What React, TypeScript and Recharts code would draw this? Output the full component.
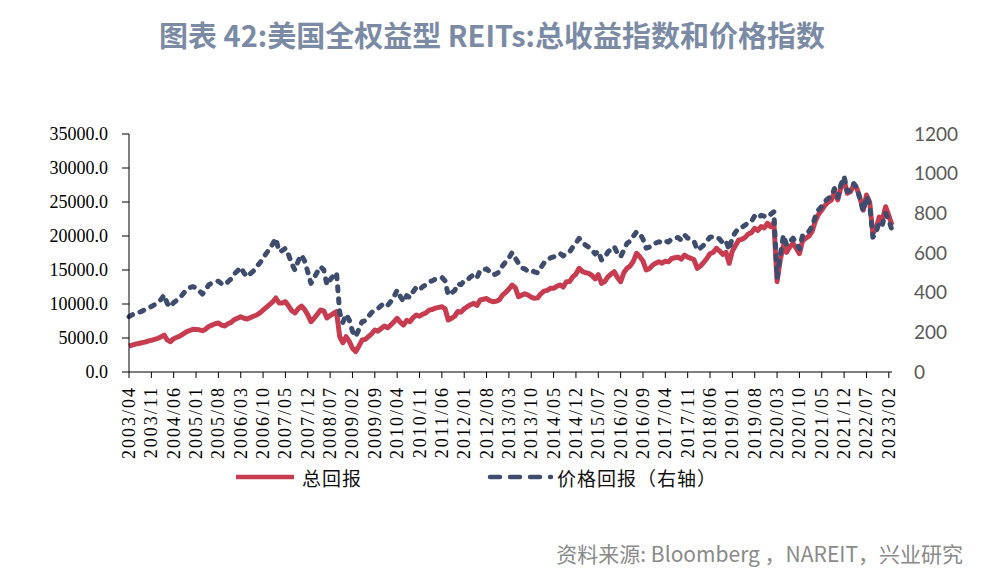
import React from 'react';
import { LineChart, Line, XAxis, YAxis } from 'recharts';

const START_YEAR = 2003;
const START_MONTH = 4;

// 总回报 (left axis), monthly from 2003/04 to 2023/03
const totalReturn = [
  3800, 3950, 4100, 4200, 4300, 4400, 4550, 4650, 4800, 4950, 5150, 5440,
  4700, 4460, 4900, 5100, 5300, 5600, 5900, 6100, 6280, 6250, 6200, 6075,
  6300, 6700, 6900, 7100, 7200, 6900, 6760, 7100, 7300, 7700, 7900, 8130,
  7900, 7790, 8000, 8200, 8380, 8700, 9100, 9500, 9900, 10300, 10880, 10150,
  10150, 10340, 9700, 9000, 8680, 9300, 9700, 9200, 8400, 7400, 7900, 8500,
  9120, 9000, 7940, 8300, 8600, 8870, 5200, 4300, 5190, 4500, 3500, 2990,
  3800, 4700, 4800, 5200, 5600, 6180, 6000, 6400, 6760, 6500, 6900, 7400,
  7900, 7300, 6910, 7600, 7400, 8000, 8380, 8200, 8500, 8700, 9100, 9200,
  9400, 9500, 9600, 9300, 7650, 7900, 8200, 8900, 8800, 9300, 9600, 9900,
  10100, 9800, 10590, 10700, 10800, 10500, 10340, 10400, 10600, 11300, 11700, 12200,
  12790, 12400, 11070, 11300, 11500, 11320, 11000, 10840, 10900, 11500, 11900, 12000,
  12300, 12310, 12600, 12800, 12500, 13280, 13300, 14000, 14400, 15250, 14800, 14600,
  14510, 14200, 13700, 14300, 13040, 13300, 14000, 14400, 14750, 13900, 13280, 14600,
  15250, 15600, 16300, 17460, 16960, 16300, 15000, 15200, 15700, 16000, 16220, 16000,
  16300, 16200, 16700, 16800, 16900, 16600, 17200, 16900, 16720, 16500, 15250, 15600,
  16100, 16700, 17400, 17600, 18190, 17800, 17300, 17600, 15990, 17800, 18600, 19410,
  19500, 19800, 20300, 20500, 21130, 20800, 21400, 21200, 21870, 21370, 22000, 13280,
  16500, 18600, 17600, 18400, 18900, 18190, 17400, 19300, 19660, 20000, 20700, 22200,
  23200, 23820, 24500, 25000, 25290, 26500, 25300, 27200, 28240, 26280, 26500, 27500,
  27000, 25500, 23800, 26030, 25000, 20400, 21000, 22800, 22350, 24310, 23000, 21620,
];

// 价格回报 (right axis)
const priceReturn = [
  279, 288, 296, 300, 306, 315, 323, 330, 340, 352, 365, 388,
  345, 328, 350, 362, 375, 395, 415, 425, 430, 425, 410, 393,
  415, 440, 448, 455, 458, 445, 439, 455, 470, 495, 510, 528,
  500, 480, 495, 510, 531, 550, 575, 598, 620, 645, 674, 607,
  612, 624, 590, 545, 514, 560, 590, 560, 505, 447, 475, 505,
  531, 515, 439, 465, 485, 501, 300, 250, 290, 262, 205, 178,
  215, 254, 258, 280, 300, 313, 320, 335, 346, 335, 355, 380,
  413, 380, 354, 385, 375, 405, 427, 415, 430, 440, 455, 460,
  468, 472, 477, 460, 388, 400, 410, 445, 440, 460, 464, 480,
  490, 475, 514, 515, 520, 505, 489, 495, 505, 535, 555, 575,
  602, 575, 548, 525, 520, 506, 512, 505, 500, 525, 550, 565,
  575, 580, 590, 598, 585, 598, 605, 630, 650, 674, 655, 640,
  630, 615, 595, 610, 565, 575, 605, 620, 632, 598, 581, 615,
  649, 660, 685, 707, 699, 670, 624, 630, 645, 650, 657, 650,
  660, 655, 672, 675, 678, 665, 691, 675, 670, 660, 615, 625,
  640, 660, 680, 682, 682, 670, 650, 660, 615, 680, 705, 725,
  730, 740, 755, 760, 787, 775, 790, 785, 800, 795, 808, 472,
  590, 690, 640, 657, 675, 650, 621, 689, 702, 709, 734, 784,
  817, 836, 860, 875, 885, 925, 880, 945, 985, 910, 915, 950,
  930, 870, 810, 885, 845, 680, 700, 760, 745, 800, 765, 715,
];

const months = totalReturn.map((_, i) => {
  const t = START_MONTH - 1 + i;
  const y = START_YEAR + Math.floor(t / 12);
  const m = (t % 12) + 1;
  return `${y}/${String(m).padStart(2, '0')}`;
});

const leftTicks = [0, 5000, 10000, 15000, 20000, 25000, 30000, 35000];
const rightTicks = [0, 200, 400, 600, 800, 1000, 1200];

const TITLE = '图表 42:美国全权益型 REITs:总收益指数和价格指数';
const SERIES_TOTAL = '总回报';
const SERIES_PRICE = '价格回报（右轴）';
const SOURCE = '资料来源: Bloomberg ，NAREIT，兴业研究';

const data = months.map((d, i) => ({ date: d, total: totalReturn[i], price: priceReturn[i] }));

const RED = '#c83c50';
const BLUE = '#3e4d6e';

const XTick = (props: any) => {
  const { x, y, payload } = props;
  return (
    <text
      x={x}
      y={y}
      transform={`rotate(-90 ${x} ${y})`}
      textAnchor="end"
      dominantBaseline="central"
      fontFamily="'Liberation Serif', 'Times New Roman', serif"
      fontSize={18}
      letterSpacing={2}
      fill="#000"
    >
      {payload.value}
    </text>
  );
};

export default function App() {
  return (
    <div style={{ position: 'absolute', left: 0, top: 0, width: 996, height: 575, background: '#fff', overflow: 'hidden' }}>
      <div
        style={{
          position: 'absolute',
          left: 0,
          width: 984,
          top: 19,
          textAlign: 'center',
          fontFamily: "'Noto Sans CJK SC', 'Noto Sans', sans-serif",
          fontWeight: 700,
          fontSize: 29,
          lineHeight: '30px',
          color: '#7b8ba5',
          whiteSpace: 'nowrap',
        }}
      >
        {TITLE}
      </div>
      <LineChart width={996} height={575} data={data} margin={{ top: 134, right: 34, bottom: 123, left: 69 }}>
        <XAxis
          dataKey="date"
          interval={6}
          tickSize={6}
          tickMargin={8}
          height={80}
          axisLine={{ stroke: '#000', strokeWidth: 1 }}
          tickLine={{ stroke: '#000', strokeWidth: 1 }}
          tick={<XTick />}
        />
        <YAxis
          yAxisId="left"
          orientation="left"
          width={60}
          domain={[0, 35000]}
          ticks={leftTicks}
          interval={0}
          tickFormatter={(v: number) => v.toFixed(1)}
          tickSize={7}
          tickMargin={14}
          axisLine={{ stroke: '#000', strokeWidth: 1 }}
          tickLine={{ stroke: '#000', strokeWidth: 1 }}
          tick={{ fill: '#000', fontFamily: "'Liberation Serif', 'Times New Roman', serif", fontSize: 18 }}
        />
        <YAxis
          yAxisId="right"
          orientation="right"
          width={70}
          domain={[0, 1200]}
          ticks={rightTicks}
          interval={0}
          tickSize={0}
          tickMargin={22}
          axisLine={false}
          tickLine={false}
          tick={{ fill: '#595959', fontFamily: "Lato, 'Liberation Sans', sans-serif", fontSize: 19 }}
        />
        <Line
          yAxisId="left"
          dataKey="total"
          type="linear"
          stroke={RED}
          strokeWidth={5}
          strokeLinejoin="round"
          dot={false}
          activeDot={false}
          isAnimationActive={false}
        />
        <Line
          yAxisId="right"
          dataKey="price"
          type="linear"
          stroke={BLUE}
          strokeWidth={5}
          strokeDasharray="4 8"
          strokeLinecap="round"
          strokeLinejoin="round"
          dot={false}
          activeDot={false}
          isAnimationActive={false}
        />
      </LineChart>
      <svg style={{ position: 'absolute', left: 0, top: 0 }} width={996} height={575} pointerEvents="none">
        <line x1={236} y1={477} x2={294} y2={477} stroke={RED} strokeWidth={4.5} />
        <line x1={490} y1={477} x2={551} y2={477} stroke={BLUE} strokeWidth={4.5} strokeDasharray="10 10" strokeLinecap="round" />
        <text x={302} y={477} dominantBaseline="central" fontFamily="'Noto Sans CJK SC', sans-serif" fontSize={19} fill="#111" letterSpacing={1}>
          {SERIES_TOTAL}
        </text>
        <text x={557} y={477} dominantBaseline="central" fontFamily="'Noto Sans CJK SC', sans-serif" fontSize={19} fill="#111" letterSpacing={1}>
          {SERIES_PRICE}
        </text>
      </svg>
      <div
        style={{
          position: 'absolute',
          right: 33,
          top: 540,
          fontFamily: "'Noto Sans CJK SC', 'Noto Sans', sans-serif",
          fontSize: 21,
          lineHeight: '26px',
          color: '#8a8a8a',
          whiteSpace: 'nowrap',
        }}
      >
        {SOURCE}
      </div>
    </div>
  );
}
